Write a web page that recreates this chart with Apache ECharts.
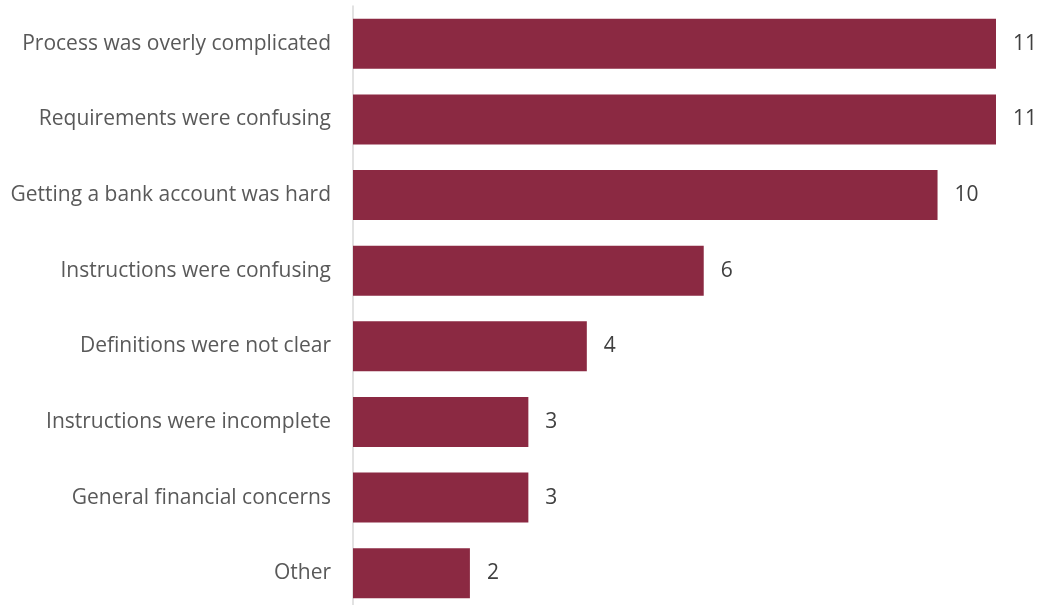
<!DOCTYPE html>
<html>
<head>
<meta charset="utf-8">
<script src="https://cdn.jsdelivr.net/npm/echarts@6/dist/echarts.min.js"></script>
<style>
html, body { margin: 0; padding: 0; background: #fff; }
#chart { width: 1045px; height: 605px; }
</style>
</head>
<body>
<div id="chart"></div>
<script>
var categories = [
    'Process was overly complicated',
    'Requirements were confusing',
    'Getting a bank account was hard',
    'Instructions were confusing',
    'Definitions were not clear',
    'Instructions were incomplete',
    'General financial concerns',
    'Other'
]
var counts = [11, 11, 10, 6, 4, 3, 3, 2]

var dom = document.getElementById('chart')
var option = {
    animation: false,
    grid: {
        left: 353,
        right: 49,
        top: 6,
        height: 605,
        outerBoundsMode: 'none'
    },
    xAxis: {
        type: 'value',
        min: 0,
        max: 11,
        show: false
    },
    yAxis: {
        type: 'category',
        inverse: true,
        data: categories,
        axisLine: { show: true, lineStyle: { color: '#d9d9d9', width: 1.5 } },
        axisTick: { show: false },
        axisLabel: {
            margin: 22,
            fontFamily: 'Open Sans',
            fontSize: 21,
            color: '#595959'
        }
    },
    series: [{
        type: 'bar',
        data: counts,
        barCategoryGap: '34%',
        itemStyle: { color: '#8b2942' },
        label: {
            show: true,
            position: 'right',
            distance: 17,
            fontFamily: 'Open Sans',
            fontSize: 21,
            color: '#404040'
        }
    }]
}
echarts.init(dom).setOption(option)
</script>
</body>
</html>
